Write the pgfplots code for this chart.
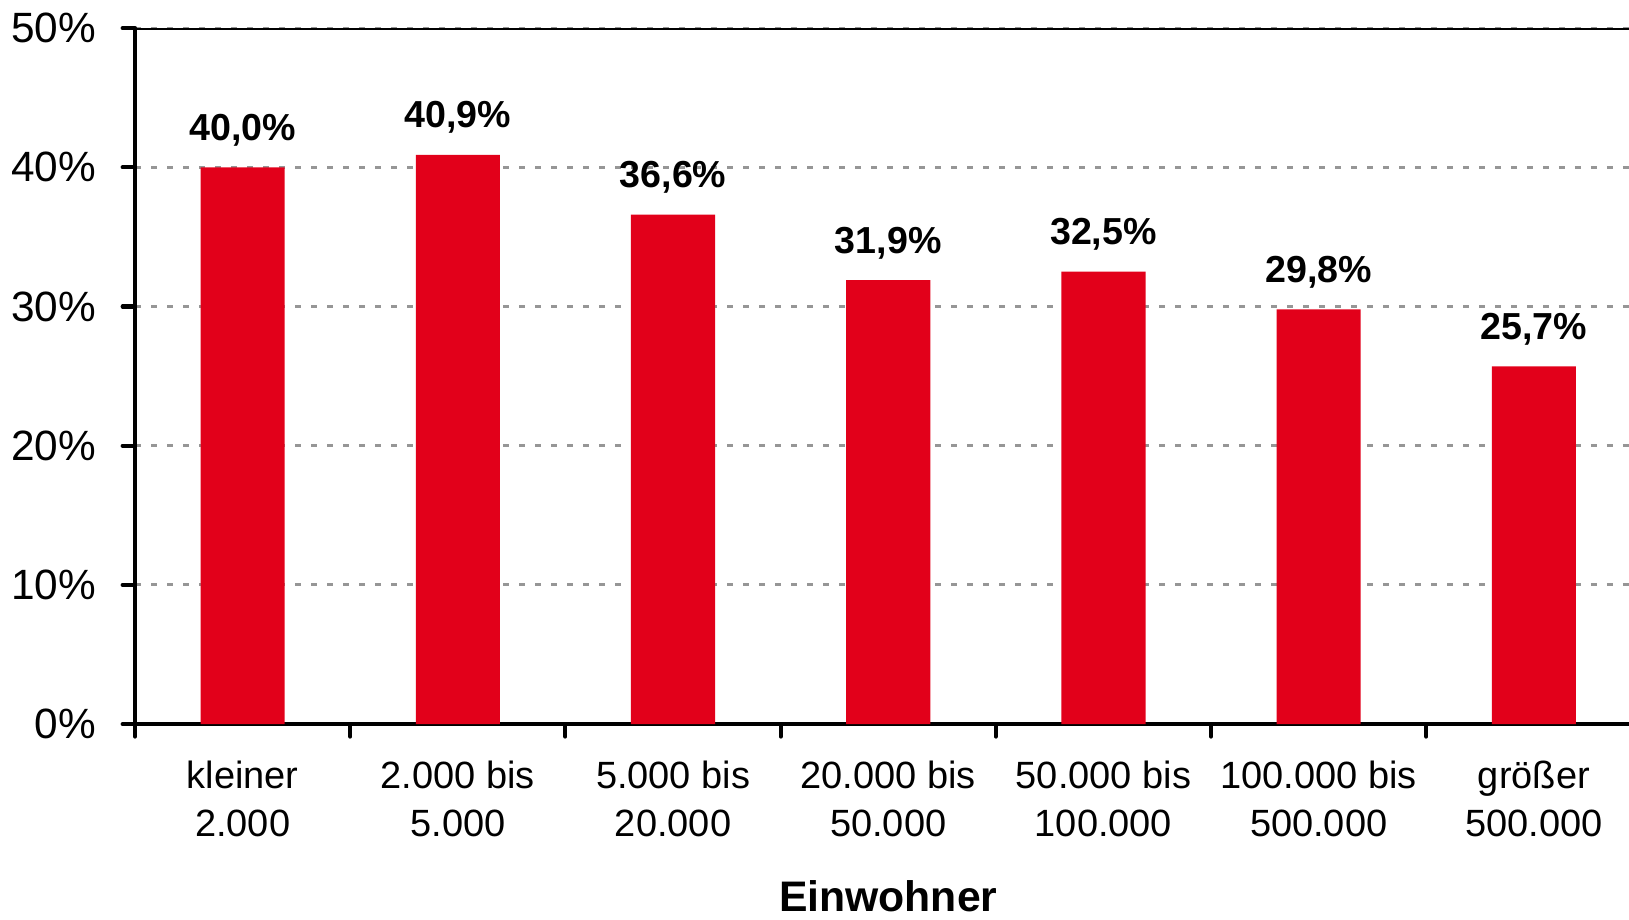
\documentclass[border=0pt]{standalone}
\usepackage{pgfplots}
\pgfplotsset{compat=1.18}
\usepackage{fontspec}
\setmainfont{Liberation Sans}
\definecolor{barred}{HTML}{E2001A}
\definecolor{gridgray}{HTML}{969696}
\begin{document}
\begin{tikzpicture}
\begin{axis}[
  name=ax,
  scale only axis,
  width=145mm, height=67mm,
  xmin=0, xmax=7, ymin=0, ymax=50,
  axis x line*=bottom, axis y line*=left,
  axis line style={line width=1.1pt, -},
  ytick={0,10,20,30,40,50},
  yticklabel={\pgfmathprintnumber[assume math mode=true]{\tick}\%},
  yticklabel style={font=\fontsize{11.6}{14}\selectfont, inner sep=0pt, anchor=east, xshift=-2.5mm},
  tick align=outside,
  tick style={line width=1.1pt, black, line cap=round},
  major tick length=1.2mm,
  ymajorgrids,
  grid style={gridgray, line width=0.8pt, line cap=butt, dash pattern=on 0.58mm off 0.96mm},
  xtick={0,1,2,3,4,5,6,7},
  xticklabels={},
  extra x ticks={0.5,1.5,2.5,3.5,4.5,5.5,6.5},
  extra x tick labels={{kleiner\\2.000},{2.000 bis\\5.000},{5.000 bis\\20.000},{20.000 bis\\50.000},{50.000 bis\\100.000},{100.000 bis\\500.000},{größer\\500.000}},
  extra x tick style={grid=none, major tick length=0pt, tick style={draw=none},
    xticklabel style={font=\fontsize{10.4}{13}\selectfont, align=center, anchor=north, inner sep=0pt, yshift=-3.5mm}},
  xlabel={Einwohner},
  xlabel style={font=\bfseries\fontsize{11.7}{14}\selectfont, at={(axis description cs:0.5,0)}, anchor=north, inner sep=0pt, yshift=-15.0mm},
  nodes near coords={\pgfmathprintnumber[fixed,fixed zerofill,precision=1,use comma,assume math mode=true]{\pgfplotspointmeta}\%},
  nodes near coords style={font=\bfseries\fontsize{10.3}{12}\selectfont, anchor=base, inner sep=0pt, yshift=2.6mm},
]
\addplot[ybar, bar width=8.1mm, fill=barred, draw=none] coordinates {
  (0.5,40.0) (1.5,40.9) (2.5,36.6) (3.5,31.9) (4.5,32.5) (5.5,29.8) (6.5,25.7)
};
\draw[line width=0.8pt, black] (axis cs:0,50) -- (axis cs:7,50);
\end{axis}
\pgfresetboundingbox
\path ([shift={(-13mm,-18.8mm)}]ax.south west) rectangle ([shift={(143.8mm,69.7mm)}]ax.south west);
\end{tikzpicture}
\end{document}
